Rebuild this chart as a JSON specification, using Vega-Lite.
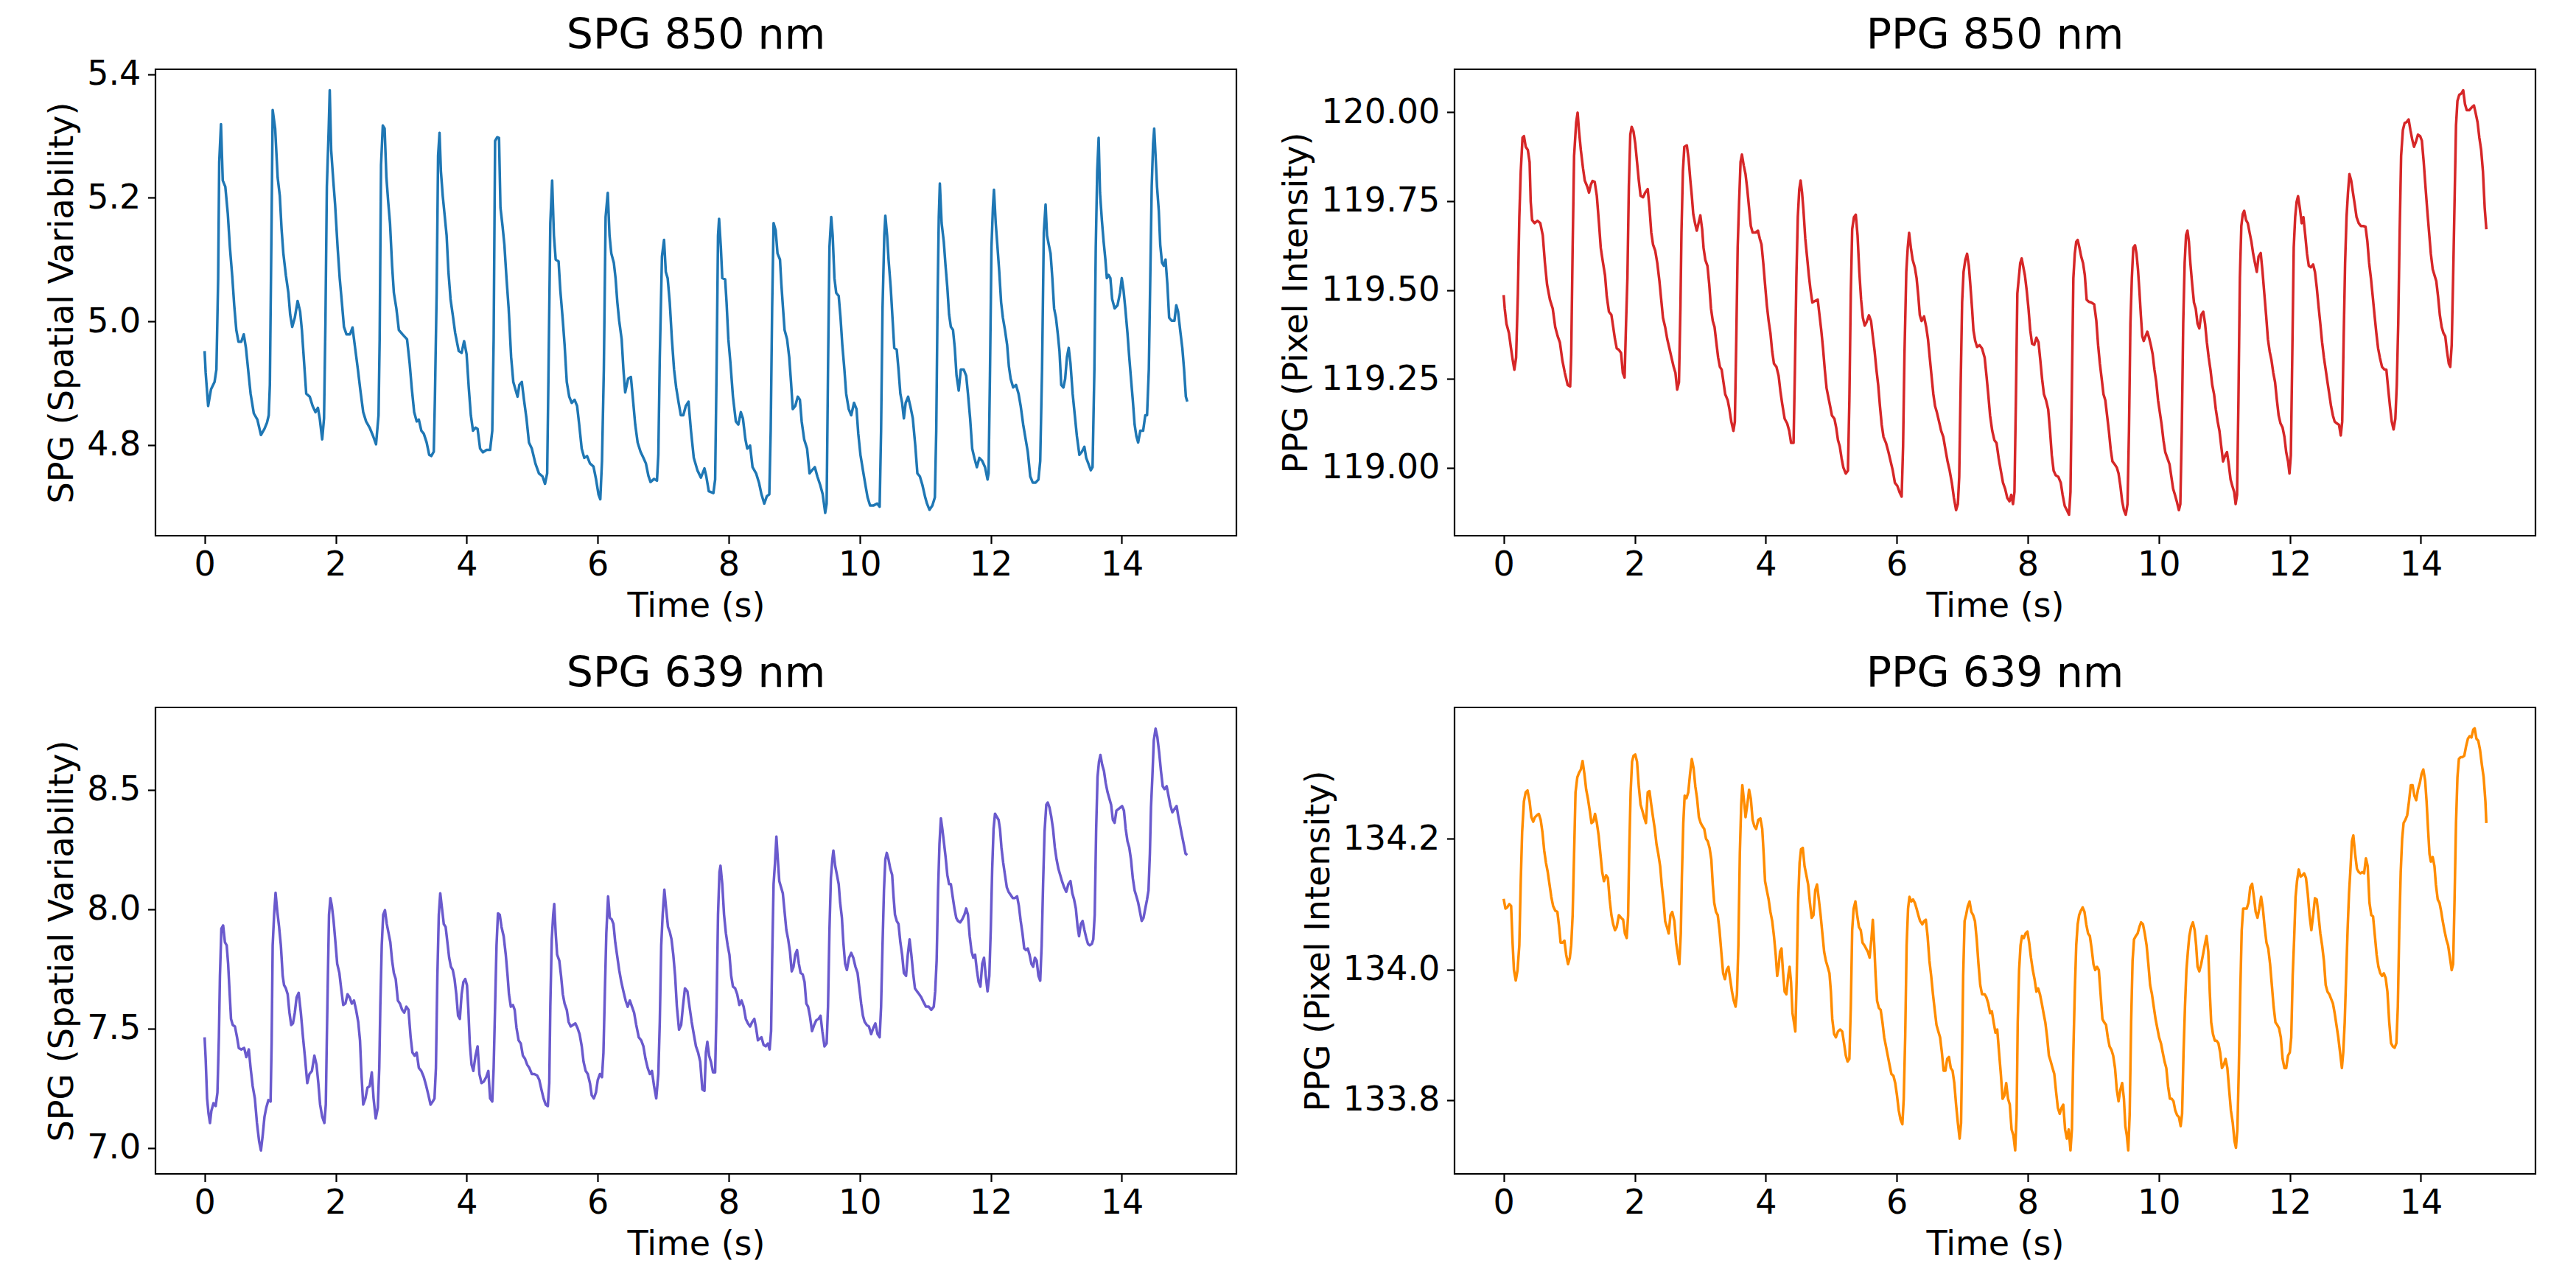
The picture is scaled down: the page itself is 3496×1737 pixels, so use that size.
{
  "$schema": "https://vega.github.io/schema/vega-lite/v6.json",
  "description": "SPG and PPG signals at 850 nm and 639 nm over 15 s",
  "background": "white",
  "padding": {"left": 60, "top": 18, "right": 10, "bottom": 10},
  "datasets": {
    "spg850": [
      {"t":0,"v":4.952},{"t":0.016,"v":4.917},{"t":0.054,"v":4.863},{"t":0.098,"v":4.89},{"t":0.152,"v":4.902},{"t":0.18,"v":4.922},{"t":0.207,"v":5.07},{"t":0.223,"v":5.258},{"t":0.25,"v":5.319},{"t":0.277,"v":5.228},{"t":0.316,"v":5.218},{"t":0.354,"v":5.174},{"t":0.386,"v":5.12},{"t":0.424,"v":5.07},{"t":0.452,"v":5.026},{"t":0.484,"v":4.986},{"t":0.517,"v":4.967},{"t":0.56,"v":4.967},{"t":0.598,"v":4.979},{"t":0.631,"v":4.957},{"t":0.669,"v":4.917},{"t":0.702,"v":4.883},{"t":0.751,"v":4.851},{"t":0.805,"v":4.841},{"t":0.86,"v":4.816},{"t":0.914,"v":4.826},{"t":0.952,"v":4.836},{"t":0.979,"v":4.848},{"t":0.996,"v":4.897},
      {"t":1.023,"v":5.169},{"t":1.039,"v":5.342},{"t":1.077,"v":5.312},{"t":1.115,"v":5.233},{"t":1.148,"v":5.203},{"t":1.175,"v":5.149},{"t":1.202,"v":5.11},{"t":1.24,"v":5.075},{"t":1.279,"v":5.046},{"t":1.306,"v":5.011},{"t":1.338,"v":4.991},{"t":1.377,"v":5.006},{"t":1.42,"v":5.033},{"t":1.458,"v":5.016},{"t":1.485,"v":4.986},{"t":1.513,"v":4.942},{"t":1.551,"v":4.883},{"t":1.605,"v":4.878},{"t":1.649,"v":4.863},{"t":1.692,"v":4.853},{"t":1.73,"v":4.86},{"t":1.757,"v":4.843},{"t":1.795,"v":4.809},{"t":1.823,"v":4.843},{"t":1.844,"v":4.996},{"t":1.866,"v":5.218},{"t":1.893,"v":5.307},{"t":1.91,"v":5.374},{"t":1.932,"v":5.277},{"t":1.964,"v":5.228},{"t":1.992,"v":5.189},
      {"t":2.03,"v":5.12},{"t":2.062,"v":5.07},{"t":2.095,"v":5.031},{"t":2.127,"v":4.991},{"t":2.165,"v":4.979},{"t":2.22,"v":4.979},{"t":2.258,"v":4.99},{"t":2.301,"v":4.954},{"t":2.34,"v":4.922},{"t":2.378,"v":4.888},{"t":2.421,"v":4.853},{"t":2.465,"v":4.838},{"t":2.519,"v":4.828},{"t":2.573,"v":4.814},{"t":2.617,"v":4.801},{"t":2.655,"v":4.848},{"t":2.672,"v":4.971},{"t":2.693,"v":5.253},{"t":2.72,"v":5.317},{"t":2.748,"v":5.312},{"t":2.775,"v":5.233},{"t":2.802,"v":5.194},{"t":2.83,"v":5.159},{"t":2.862,"v":5.09},{"t":2.889,"v":5.046},{"t":2.927,"v":5.021},{"t":2.965,"v":4.986},
      {"t":3.02,"v":4.979},{"t":3.09,"v":4.971},{"t":3.13,"v":4.932},{"t":3.161,"v":4.893},{"t":3.199,"v":4.853},{"t":3.237,"v":4.838},{"t":3.27,"v":4.841},{"t":3.308,"v":4.823},{"t":3.346,"v":4.818},{"t":3.389,"v":4.804},{"t":3.428,"v":4.784},{"t":3.46,"v":4.782},{"t":3.498,"v":4.789},{"t":3.515,"v":4.873},{"t":3.542,"v":5.046},{"t":3.564,"v":5.268},{"t":3.586,"v":5.305},{"t":3.607,"v":5.243},{"t":3.635,"v":5.203},{"t":3.662,"v":5.174},{"t":3.694,"v":5.139},{"t":3.722,"v":5.08},{"t":3.754,"v":5.036},{"t":3.787,"v":5.011},{"t":3.825,"v":4.981},{"t":3.879,"v":4.952},{"t":3.923,"v":4.949},{"t":3.961,"v":4.968},{"t":3.999,"v":4.947},
      {"t":4.032,"v":4.893},{"t":4.064,"v":4.848},{"t":4.097,"v":4.823},{"t":4.135,"v":4.828},{"t":4.167,"v":4.826},{"t":4.205,"v":4.794},{"t":4.249,"v":4.788},{"t":4.304,"v":4.792},{"t":4.358,"v":4.792},{"t":4.391,"v":4.823},{"t":4.412,"v":4.971},{"t":4.434,"v":5.292},{"t":4.467,"v":5.298},{"t":4.494,"v":5.297},{"t":4.516,"v":5.184},{"t":4.548,"v":5.154},{"t":4.576,"v":5.124},{"t":4.608,"v":5.07},{"t":4.641,"v":5.021},{"t":4.679,"v":4.942},{"t":4.712,"v":4.902},{"t":4.75,"v":4.888},{"t":4.777,"v":4.878},{"t":4.804,"v":4.897},{"t":4.842,"v":4.902},{"t":4.875,"v":4.873},{"t":4.913,"v":4.843},{"t":4.951,"v":4.804},{"t":4.995,"v":4.794},
      {"t":5.049,"v":4.77},{"t":5.103,"v":4.754},{"t":5.158,"v":4.749},{"t":5.196,"v":4.737},{"t":5.229,"v":4.754},{"t":5.25,"v":4.922},{"t":5.277,"v":5.159},{"t":5.305,"v":5.228},{"t":5.332,"v":5.139},{"t":5.359,"v":5.1},{"t":5.403,"v":5.097},{"t":5.43,"v":5.05},{"t":5.468,"v":5.001},{"t":5.495,"v":4.962},{"t":5.528,"v":4.902},{"t":5.566,"v":4.878},{"t":5.604,"v":4.868},{"t":5.648,"v":4.873},{"t":5.686,"v":4.863},{"t":5.718,"v":4.833},{"t":5.756,"v":4.794},{"t":5.795,"v":4.779},{"t":5.838,"v":4.782},{"t":5.882,"v":4.77},{"t":5.936,"v":4.765},{"t":5.974,"v":4.745},
      {"t":6.012,"v":4.72},{"t":6.04,"v":4.712},{"t":6.066,"v":4.774},{"t":6.094,"v":4.922},{"t":6.121,"v":5.169},{"t":6.154,"v":5.208},{"t":6.181,"v":5.139},{"t":6.208,"v":5.11},{"t":6.246,"v":5.095},{"t":6.273,"v":5.07},{"t":6.3,"v":5.031},{"t":6.328,"v":5.001},{"t":6.366,"v":4.971},{"t":6.393,"v":4.922},{"t":6.42,"v":4.885},{"t":6.464,"v":4.907},{"t":6.507,"v":4.91},{"t":6.535,"v":4.878},{"t":6.573,"v":4.833},{"t":6.61,"v":4.804},{"t":6.654,"v":4.789},{"t":6.698,"v":4.779},{"t":6.736,"v":4.77},{"t":6.774,"v":4.75},{"t":6.807,"v":4.74},{"t":6.861,"v":4.745},{"t":6.905,"v":4.742},{"t":6.926,"v":4.784},{"t":6.948,"v":4.942},{"t":6.981,"v":5.105},
      {"t":7.013,"v":5.132},{"t":7.04,"v":5.08},{"t":7.068,"v":5.07},{"t":7.1,"v":5.031},{"t":7.133,"v":4.971},{"t":7.166,"v":4.922},{"t":7.198,"v":4.893},{"t":7.236,"v":4.868},{"t":7.269,"v":4.848},{"t":7.307,"v":4.848},{"t":7.345,"v":4.863},{"t":7.386,"v":4.87},{"t":7.424,"v":4.823},{"t":7.467,"v":4.779},{"t":7.522,"v":4.759},{"t":7.576,"v":4.747},{"t":7.63,"v":4.762},{"t":7.658,"v":4.749},{"t":7.696,"v":4.725},{"t":7.766,"v":4.722},{"t":7.793,"v":4.744},{"t":7.815,"v":4.922},{"t":7.837,"v":5.139},{"t":7.853,"v":5.166},{"t":7.88,"v":5.12},{"t":7.902,"v":5.07},{"t":7.946,"v":5.068},{"t":7.967,"v":5.031},{"t":7.995,"v":4.971},
      {"t":8.027,"v":4.932},{"t":8.065,"v":4.878},{"t":8.109,"v":4.838},{"t":8.147,"v":4.833},{"t":8.185,"v":4.853},{"t":8.217,"v":4.843},{"t":8.255,"v":4.809},{"t":8.283,"v":4.794},{"t":8.326,"v":4.799},{"t":8.364,"v":4.764},{"t":8.418,"v":4.754},{"t":8.462,"v":4.739},{"t":8.5,"v":4.72},{"t":8.543,"v":4.705},{"t":8.582,"v":4.717},{"t":8.62,"v":4.72},{"t":8.641,"v":4.823},{"t":8.663,"v":5.021},{"t":8.685,"v":5.159},{"t":8.717,"v":5.147},{"t":8.745,"v":5.11},{"t":8.783,"v":5.1},{"t":8.804,"v":5.06},{"t":8.826,"v":5.026},{"t":8.853,"v":4.986},{"t":8.891,"v":4.971},{"t":8.924,"v":4.942},{"t":8.951,"v":4.902},{"t":8.978,"v":4.858},
      {"t":9.016,"v":4.863},{"t":9.054,"v":4.878},{"t":9.087,"v":4.873},{"t":9.114,"v":4.838},{"t":9.152,"v":4.809},{"t":9.196,"v":4.794},{"t":9.234,"v":4.754},{"t":9.272,"v":4.759},{"t":9.315,"v":4.764},{"t":9.353,"v":4.749},{"t":9.397,"v":4.735},{"t":9.435,"v":4.72},{"t":9.473,"v":4.69},{"t":9.495,"v":4.705},{"t":9.516,"v":4.922},{"t":9.538,"v":5.12},{"t":9.565,"v":5.169},{"t":9.587,"v":5.139},{"t":9.614,"v":5.07},{"t":9.641,"v":5.046},{"t":9.679,"v":5.041},{"t":9.707,"v":5.006},{"t":9.734,"v":4.962},{"t":9.766,"v":4.922},{"t":9.793,"v":4.883},{"t":9.832,"v":4.858},{"t":9.87,"v":4.848},{"t":9.913,"v":4.868},{"t":9.951,"v":4.858},{"t":9.978,"v":4.818},
      {"t":10.011,"v":4.784},{"t":10.049,"v":4.759},{"t":10.087,"v":4.735},{"t":10.12,"v":4.715},{"t":10.158,"v":4.702},{"t":10.212,"v":4.702},{"t":10.266,"v":4.705},{"t":10.304,"v":4.7},{"t":10.326,"v":4.823},{"t":10.348,"v":5.021},{"t":10.375,"v":5.139},{"t":10.391,"v":5.171},{"t":10.418,"v":5.139},{"t":10.44,"v":5.1},{"t":10.473,"v":5.055},{"t":10.5,"v":5.006},{"t":10.527,"v":4.957},{"t":10.565,"v":4.954},{"t":10.592,"v":4.922},{"t":10.62,"v":4.883},{"t":10.647,"v":4.868},{"t":10.674,"v":4.843},{"t":10.701,"v":4.868},{"t":10.739,"v":4.878},{"t":10.772,"v":4.863},{"t":10.81,"v":4.843},{"t":10.848,"v":4.799},{"t":10.88,"v":4.754},{"t":10.918,"v":4.749},{"t":10.957,"v":4.735},
      {"t":11.0,"v":4.715},{"t":11.027,"v":4.705},{"t":11.065,"v":4.695},{"t":11.109,"v":4.702},{"t":11.147,"v":4.715},{"t":11.168,"v":4.823},{"t":11.19,"v":5.046},{"t":11.207,"v":5.169},{"t":11.223,"v":5.223},{"t":11.25,"v":5.159},{"t":11.283,"v":5.129},{"t":11.31,"v":5.09},{"t":11.337,"v":5.055},{"t":11.364,"v":5.011},{"t":11.391,"v":4.991},{"t":11.424,"v":4.986},{"t":11.451,"v":4.957},{"t":11.478,"v":4.912},{"t":11.511,"v":4.888},{"t":11.543,"v":4.922},{"t":11.587,"v":4.922},{"t":11.625,"v":4.912},{"t":11.652,"v":4.883},{"t":11.685,"v":4.843},{"t":11.717,"v":4.794},{"t":11.75,"v":4.779},{"t":11.788,"v":4.764},{"t":11.826,"v":4.779},{"t":11.87,"v":4.774},{"t":11.913,"v":4.764},{"t":11.951,"v":4.744},{"t":11.967,"v":4.754},{"t":11.989,"v":4.922},
      {"t":12.011,"v":5.12},{"t":12.033,"v":5.184},{"t":12.049,"v":5.213},{"t":12.076,"v":5.159},{"t":12.103,"v":5.12},{"t":12.13,"v":5.08},{"t":12.158,"v":5.031},{"t":12.185,"v":5.006},{"t":12.217,"v":4.986},{"t":12.25,"v":4.962},{"t":12.277,"v":4.927},{"t":12.304,"v":4.907},{"t":12.342,"v":4.893},{"t":12.386,"v":4.897},{"t":12.424,"v":4.883},{"t":12.457,"v":4.863},{"t":12.495,"v":4.833},{"t":12.533,"v":4.809},{"t":12.565,"v":4.789},{"t":12.603,"v":4.749},{"t":12.641,"v":4.739},{"t":12.685,"v":4.739},{"t":12.728,"v":4.744},{"t":12.755,"v":4.774},{"t":12.783,"v":4.922},{"t":12.81,"v":5.144},{"t":12.837,"v":5.189},{"t":12.859,"v":5.139},{"t":12.886,"v":5.124},{"t":12.913,"v":5.11},{"t":12.94,"v":5.07},{"t":12.967,"v":5.021},{"t":12.995,"v":5.006},
      {"t":13.022,"v":4.981},{"t":13.049,"v":4.952},{"t":13.076,"v":4.897},{"t":13.109,"v":4.893},{"t":13.136,"v":4.907},{"t":13.163,"v":4.942},{"t":13.19,"v":4.957},{"t":13.217,"v":4.932},{"t":13.25,"v":4.883},{"t":13.283,"v":4.848},{"t":13.315,"v":4.814},{"t":13.353,"v":4.784},{"t":13.391,"v":4.789},{"t":13.429,"v":4.797},{"t":13.457,"v":4.779},{"t":13.489,"v":4.77},{"t":13.527,"v":4.759},{"t":13.554,"v":4.764},{"t":13.582,"v":4.922},{"t":13.603,"v":5.12},{"t":13.625,"v":5.243},{"t":13.647,"v":5.297},{"t":13.668,"v":5.208},{"t":13.696,"v":5.164},{"t":13.723,"v":5.129},{"t":13.75,"v":5.1},{"t":13.772,"v":5.07},{"t":13.799,"v":5.075},{"t":13.826,"v":5.07},{"t":13.853,"v":5.036},{"t":13.891,"v":5.021},{"t":13.935,"v":5.026},{"t":13.973,"v":5.046},
      {"t":14.0,"v":5.07},{"t":14.027,"v":5.05},{"t":14.054,"v":5.021},{"t":14.087,"v":4.981},{"t":14.114,"v":4.942},{"t":14.141,"v":4.907},{"t":14.168,"v":4.873},{"t":14.196,"v":4.833},{"t":14.223,"v":4.814},{"t":14.25,"v":4.804},{"t":14.283,"v":4.823},{"t":14.326,"v":4.823},{"t":14.359,"v":4.848},{"t":14.386,"v":4.848},{"t":14.413,"v":4.922},{"t":14.435,"v":5.07},{"t":14.457,"v":5.218},{"t":14.478,"v":5.287},{"t":14.495,"v":5.312},{"t":14.516,"v":5.268},{"t":14.538,"v":5.218},{"t":14.565,"v":5.179},{"t":14.587,"v":5.124},{"t":14.614,"v":5.095},{"t":14.641,"v":5.09},{"t":14.668,"v":5.1},{"t":14.696,"v":5.06},{"t":14.723,"v":5.006},{"t":14.761,"v":5.001},{"t":14.804,"v":5.001},{"t":14.832,"v":5.026},{"t":14.859,"v":5.016},{"t":14.891,"v":4.986},{"t":14.924,"v":4.957},{"t":14.951,"v":4.922},{"t":14.978,"v":4.878},{"t":15.0,"v":4.87}
    ],
    "ppg850": [
      {"t":0,"v":119.486},{"t":0.016,"v":119.448},{"t":0.043,"v":119.405},{"t":0.081,"v":119.379},{"t":0.109,"v":119.34},{"t":0.136,"v":119.306},{"t":0.163,"v":119.276},{"t":0.19,"v":119.31},{"t":0.217,"v":119.49},{"t":0.239,"v":119.705},{"t":0.261,"v":119.834},{"t":0.288,"v":119.929},{"t":0.31,"v":119.933},{"t":0.337,"v":119.903},{"t":0.369,"v":119.894},{"t":0.396,"v":119.86},{"t":0.413,"v":119.748},{"t":0.434,"v":119.697},{"t":0.472,"v":119.688},{"t":0.516,"v":119.695},{"t":0.559,"v":119.688},{"t":0.597,"v":119.654},{"t":0.63,"v":119.576},{"t":0.662,"v":119.516},{"t":0.706,"v":119.473},{"t":0.749,"v":119.448},{"t":0.787,"v":119.396},{"t":0.825,"v":119.37},{"t":0.858,"v":119.353},{"t":0.896,"v":119.302},{"t":0.934,"v":119.267},{"t":0.977,"v":119.233},
      {"t":1.015,"v":119.229},{"t":1.031,"v":119.319},{"t":1.053,"v":119.619},{"t":1.075,"v":119.877},{"t":1.107,"v":119.972},{"t":1.129,"v":119.999},{"t":1.151,"v":119.946},{"t":1.178,"v":119.894},{"t":1.211,"v":119.843},{"t":1.238,"v":119.808},{"t":1.276,"v":119.791},{"t":1.303,"v":119.774},{"t":1.33,"v":119.796},{"t":1.357,"v":119.807},{"t":1.39,"v":119.804},{"t":1.422,"v":119.765},{"t":1.455,"v":119.688},{"t":1.482,"v":119.619},{"t":1.509,"v":119.585},{"t":1.547,"v":119.542},{"t":1.574,"v":119.482},{"t":1.607,"v":119.439},{"t":1.645,"v":119.43},{"t":1.672,"v":119.396},{"t":1.699,"v":119.362},{"t":1.726,"v":119.336},{"t":1.759,"v":119.332},{"t":1.792,"v":119.323},{"t":1.819,"v":119.267},{"t":1.846,"v":119.254},{"t":1.868,"v":119.405},{"t":1.889,"v":119.534},{"t":1.911,"v":119.791},{"t":1.933,"v":119.937},{"t":1.954,"v":119.959},{"t":1.982,"v":119.946},
      {"t":2.009,"v":119.912},{"t":2.036,"v":119.86},{"t":2.063,"v":119.808},{"t":2.09,"v":119.765},{"t":2.128,"v":119.761},{"t":2.16,"v":119.774},{"t":2.199,"v":119.784},{"t":2.226,"v":119.731},{"t":2.253,"v":119.662},{"t":2.28,"v":119.628},{"t":2.313,"v":119.611},{"t":2.345,"v":119.576},{"t":2.378,"v":119.525},{"t":2.405,"v":119.473},{"t":2.432,"v":119.422},{"t":2.465,"v":119.396},{"t":2.497,"v":119.362},{"t":2.53,"v":119.336},{"t":2.562,"v":119.31},{"t":2.595,"v":119.284},{"t":2.622,"v":119.267},{"t":2.649,"v":119.22},{"t":2.676,"v":119.241},{"t":2.698,"v":119.448},{"t":2.714,"v":119.662},{"t":2.736,"v":119.834},{"t":2.758,"v":119.903},{"t":2.796,"v":119.907},{"t":2.823,"v":119.869},{"t":2.85,"v":119.808},{"t":2.872,"v":119.765},{"t":2.894,"v":119.714},{"t":2.921,"v":119.688},{"t":2.948,"v":119.667},{"t":2.975,"v":119.688},
      {"t":3.002,"v":119.71},{"t":3.03,"v":119.671},{"t":3.051,"v":119.619},{"t":3.078,"v":119.585},{"t":3.111,"v":119.568},{"t":3.138,"v":119.516},{"t":3.165,"v":119.448},{"t":3.192,"v":119.413},{"t":3.219,"v":119.396},{"t":3.246,"v":119.353},{"t":3.274,"v":119.31},{"t":3.301,"v":119.284},{"t":3.328,"v":119.276},{"t":3.355,"v":119.241},{"t":3.382,"v":119.207},{"t":3.42,"v":119.19},{"t":3.447,"v":119.164},{"t":3.475,"v":119.13},{"t":3.507,"v":119.104},{"t":3.529,"v":119.13},{"t":3.551,"v":119.362},{"t":3.572,"v":119.619},{"t":3.594,"v":119.748},{"t":3.616,"v":119.86},{"t":3.637,"v":119.881},{"t":3.664,"v":119.851},{"t":3.692,"v":119.826},{"t":3.719,"v":119.783},{"t":3.746,"v":119.731},{"t":3.773,"v":119.68},{"t":3.8,"v":119.662},{"t":3.844,"v":119.662},{"t":3.882,"v":119.667},{"t":3.909,"v":119.645},{"t":3.936,"v":119.628},{"t":3.963,"v":119.576},{"t":3.99,"v":119.516},
      {"t":4.018,"v":119.456},{"t":4.045,"v":119.413},{"t":4.072,"v":119.379},{"t":4.099,"v":119.327},{"t":4.126,"v":119.293},{"t":4.164,"v":119.284},{"t":4.197,"v":119.259},{"t":4.224,"v":119.216},{"t":4.251,"v":119.181},{"t":4.289,"v":119.138},{"t":4.327,"v":119.125},{"t":4.359,"v":119.104},{"t":4.387,"v":119.07},{"t":4.425,"v":119.07},{"t":4.446,"v":119.276},{"t":4.468,"v":119.534},{"t":4.49,"v":119.705},{"t":4.512,"v":119.783},{"t":4.533,"v":119.808},{"t":4.555,"v":119.774},{"t":4.577,"v":119.723},{"t":4.604,"v":119.645},{"t":4.631,"v":119.594},{"t":4.658,"v":119.542},{"t":4.685,"v":119.499},{"t":4.712,"v":119.465},{"t":4.75,"v":119.469},{"t":4.794,"v":119.473},{"t":4.821,"v":119.43},{"t":4.848,"v":119.387},{"t":4.875,"v":119.336},{"t":4.902,"v":119.276},{"t":4.929,"v":119.224},{"t":4.957,"v":119.198},{"t":4.984,"v":119.173},
      {"t":5.011,"v":119.147},{"t":5.049,"v":119.138},{"t":5.076,"v":119.113},{"t":5.103,"v":119.078},{"t":5.13,"v":119.061},{"t":5.158,"v":119.027},{"t":5.185,"v":119.001},{"t":5.222,"v":118.984},{"t":5.255,"v":118.992},{"t":5.277,"v":119.19},{"t":5.299,"v":119.491},{"t":5.32,"v":119.671},{"t":5.347,"v":119.705},{"t":5.375,"v":119.712},{"t":5.402,"v":119.654},{"t":5.429,"v":119.551},{"t":5.456,"v":119.473},{"t":5.483,"v":119.422},{"t":5.511,"v":119.4},{"t":5.538,"v":119.409},{"t":5.576,"v":119.429},{"t":5.608,"v":119.413},{"t":5.635,"v":119.37},{"t":5.663,"v":119.327},{"t":5.69,"v":119.276},{"t":5.717,"v":119.233},{"t":5.744,"v":119.173},{"t":5.771,"v":119.121},{"t":5.798,"v":119.087},{"t":5.836,"v":119.07},{"t":5.874,"v":119.044},{"t":5.907,"v":119.018},{"t":5.94,"v":118.992},{"t":5.972,"v":118.958},
      {"t":6.01,"v":118.949},{"t":6.042,"v":118.932},{"t":6.075,"v":118.919},{"t":6.097,"v":119.061},{"t":6.118,"v":119.319},{"t":6.146,"v":119.551},{"t":6.168,"v":119.619},{"t":6.189,"v":119.661},{"t":6.216,"v":119.619},{"t":6.243,"v":119.585},{"t":6.276,"v":119.564},{"t":6.303,"v":119.534},{"t":6.33,"v":119.482},{"t":6.352,"v":119.43},{"t":6.379,"v":119.413},{"t":6.417,"v":119.426},{"t":6.45,"v":119.396},{"t":6.477,"v":119.362},{"t":6.504,"v":119.31},{"t":6.531,"v":119.259},{"t":6.559,"v":119.207},{"t":6.586,"v":119.173},{"t":6.613,"v":119.156},{"t":6.646,"v":119.13},{"t":6.678,"v":119.104},{"t":6.711,"v":119.087},{"t":6.743,"v":119.052},{"t":6.776,"v":119.018},{"t":6.808,"v":118.992},{"t":6.841,"v":118.958},{"t":6.873,"v":118.915},{"t":6.906,"v":118.881},{"t":6.933,"v":118.898},{"t":6.954,"v":118.975},{"t":6.976,"v":119.233},{"t":6.998,"v":119.465},
      {"t":7.02,"v":119.551},{"t":7.047,"v":119.585},{"t":7.074,"v":119.602},{"t":7.101,"v":119.568},{"t":7.123,"v":119.516},{"t":7.15,"v":119.448},{"t":7.171,"v":119.387},{"t":7.198,"v":119.357},{"t":7.226,"v":119.34},{"t":7.264,"v":119.345},{"t":7.302,"v":119.336},{"t":7.342,"v":119.31},{"t":7.37,"v":119.259},{"t":7.397,"v":119.207},{"t":7.425,"v":119.147},{"t":7.458,"v":119.104},{"t":7.49,"v":119.078},{"t":7.523,"v":119.07},{"t":7.556,"v":119.027},{"t":7.589,"v":118.992},{"t":7.622,"v":118.958},{"t":7.655,"v":118.941},{"t":7.688,"v":118.915},{"t":7.721,"v":118.906},{"t":7.748,"v":118.924},{"t":7.775,"v":118.898},{"t":7.797,"v":118.932},{"t":7.819,"v":119.19},{"t":7.841,"v":119.49},{"t":7.863,"v":119.533},{"t":7.885,"v":119.576},{"t":7.907,"v":119.589},{"t":7.929,"v":119.568},{"t":7.956,"v":119.542},{"t":7.984,"v":119.499},
      {"t":8.011,"v":119.448},{"t":8.038,"v":119.387},{"t":8.066,"v":119.349},{"t":8.099,"v":119.346},{"t":8.132,"v":119.366},{"t":8.164,"v":119.353},{"t":8.192,"v":119.302},{"t":8.219,"v":119.25},{"t":8.247,"v":119.207},{"t":8.279,"v":119.19},{"t":8.312,"v":119.164},{"t":8.34,"v":119.104},{"t":8.367,"v":119.035},{"t":8.395,"v":118.992},{"t":8.427,"v":118.979},{"t":8.466,"v":118.975},{"t":8.504,"v":118.958},{"t":8.532,"v":118.924},{"t":8.564,"v":118.893},{"t":8.597,"v":118.881},{"t":8.63,"v":118.868},{"t":8.652,"v":118.932},{"t":8.674,"v":119.233},{"t":8.696,"v":119.533},{"t":8.718,"v":119.602},{"t":8.74,"v":119.636},{"t":8.762,"v":119.641},{"t":8.789,"v":119.619},{"t":8.816,"v":119.594},{"t":8.844,"v":119.576},{"t":8.871,"v":119.542},{"t":8.899,"v":119.473},{"t":8.932,"v":119.467},{"t":8.97,"v":119.465},
      {"t":9.014,"v":119.46},{"t":9.047,"v":119.413},{"t":9.074,"v":119.345},{"t":9.101,"v":119.293},{"t":9.129,"v":119.25},{"t":9.156,"v":119.207},{"t":9.184,"v":119.19},{"t":9.211,"v":119.147},{"t":9.238,"v":119.104},{"t":9.266,"v":119.052},{"t":9.293,"v":119.018},{"t":9.326,"v":119.01},{"t":9.359,"v":119.001},{"t":9.386,"v":118.984},{"t":9.414,"v":118.949},{"t":9.441,"v":118.906},{"t":9.468,"v":118.881},{"t":9.496,"v":118.868},{"t":9.523,"v":118.898},{"t":9.545,"v":119.104},{"t":9.567,"v":119.405},{"t":9.589,"v":119.534},{"t":9.611,"v":119.619},{"t":9.638,"v":119.626},{"t":9.66,"v":119.602},{"t":9.682,"v":119.559},{"t":9.704,"v":119.499},{"t":9.726,"v":119.43},{"t":9.748,"v":119.37},{"t":9.77,"v":119.357},{"t":9.797,"v":119.37},{"t":9.825,"v":119.383},{"t":9.852,"v":119.366},{"t":9.879,"v":119.345},{"t":9.907,"v":119.319},{"t":9.934,"v":119.276},{"t":9.962,"v":119.241},{"t":9.989,"v":119.19},
      {"t":10.016,"v":119.156},{"t":10.044,"v":119.121},{"t":10.071,"v":119.078},{"t":10.099,"v":119.044},{"t":10.132,"v":119.027},{"t":10.164,"v":119.01},{"t":10.192,"v":118.975},{"t":10.219,"v":118.941},{"t":10.247,"v":118.924},{"t":10.274,"v":118.906},{"t":10.307,"v":118.881},{"t":10.329,"v":118.898},{"t":10.351,"v":119.104},{"t":10.373,"v":119.405},{"t":10.395,"v":119.576},{"t":10.416,"v":119.654},{"t":10.438,"v":119.667},{"t":10.46,"v":119.636},{"t":10.482,"v":119.576},{"t":10.51,"v":119.516},{"t":10.537,"v":119.465},{"t":10.564,"v":119.448},{"t":10.592,"v":119.405},{"t":10.619,"v":119.392},{"t":10.647,"v":119.43},{"t":10.679,"v":119.439},{"t":10.707,"v":119.405},{"t":10.734,"v":119.353},{"t":10.762,"v":119.31},{"t":10.789,"v":119.276},{"t":10.816,"v":119.233},{"t":10.844,"v":119.207},{"t":10.871,"v":119.164},{"t":10.899,"v":119.13},{"t":10.926,"v":119.104},{"t":10.953,"v":119.061},{"t":10.981,"v":119.018},
      {"t":11.014,"v":119.035},{"t":11.041,"v":119.044},{"t":11.068,"v":119.01},{"t":11.096,"v":118.967},{"t":11.123,"v":118.949},{"t":11.151,"v":118.932},{"t":11.173,"v":118.898},{"t":11.195,"v":118.924},{"t":11.216,"v":119.19},{"t":11.238,"v":119.534},{"t":11.26,"v":119.68},{"t":11.282,"v":119.714},{"t":11.304,"v":119.723},{"t":11.332,"v":119.697},{"t":11.359,"v":119.688},{"t":11.386,"v":119.662},{"t":11.414,"v":119.636},{"t":11.441,"v":119.602},{"t":11.468,"v":119.576},{"t":11.496,"v":119.551},{"t":11.523,"v":119.594},{"t":11.556,"v":119.604},{"t":11.584,"v":119.551},{"t":11.611,"v":119.49},{"t":11.638,"v":119.43},{"t":11.666,"v":119.362},{"t":11.693,"v":119.327},{"t":11.721,"v":119.302},{"t":11.748,"v":119.267},{"t":11.775,"v":119.241},{"t":11.803,"v":119.19},{"t":11.83,"v":119.147},{"t":11.858,"v":119.125},{"t":11.89,"v":119.113},{"t":11.918,"v":119.087},{"t":11.945,"v":119.044},{"t":11.973,"v":119.018},{"t":11.995,"v":118.984},
      {"t":12.016,"v":119.035},{"t":12.038,"v":119.319},{"t":12.06,"v":119.619},{"t":12.082,"v":119.705},{"t":12.104,"v":119.748},{"t":12.126,"v":119.764},{"t":12.153,"v":119.731},{"t":12.181,"v":119.688},{"t":12.208,"v":119.705},{"t":12.236,"v":119.654},{"t":12.263,"v":119.602},{"t":12.29,"v":119.568},{"t":12.323,"v":119.564},{"t":12.356,"v":119.572},{"t":12.384,"v":119.551},{"t":12.411,"v":119.508},{"t":12.438,"v":119.456},{"t":12.466,"v":119.405},{"t":12.493,"v":119.353},{"t":12.521,"v":119.31},{"t":12.548,"v":119.276},{"t":12.575,"v":119.241},{"t":12.603,"v":119.207},{"t":12.63,"v":119.173},{"t":12.658,"v":119.147},{"t":12.685,"v":119.13},{"t":12.718,"v":119.125},{"t":12.751,"v":119.121},{"t":12.778,"v":119.091},{"t":12.8,"v":119.13},{"t":12.822,"v":119.362},{"t":12.844,"v":119.576},{"t":12.866,"v":119.705},{"t":12.888,"v":119.774},{"t":12.91,"v":119.826},{"t":12.937,"v":119.808},{"t":12.964,"v":119.774},{"t":12.992,"v":119.74},
      {"t":13.019,"v":119.705},{"t":13.052,"v":119.688},{"t":13.085,"v":119.68},{"t":13.123,"v":119.68},{"t":13.156,"v":119.678},{"t":13.184,"v":119.637},{"t":13.211,"v":119.576},{"t":13.238,"v":119.534},{"t":13.266,"v":119.482},{"t":13.293,"v":119.43},{"t":13.321,"v":119.379},{"t":13.348,"v":119.336},{"t":13.375,"v":119.31},{"t":13.408,"v":119.284},{"t":13.441,"v":119.277},{"t":13.474,"v":119.276},{"t":13.501,"v":119.224},{"t":13.529,"v":119.173},{"t":13.556,"v":119.13},{"t":13.584,"v":119.108},{"t":13.611,"v":119.138},{"t":13.633,"v":119.233},{"t":13.655,"v":119.405},{"t":13.677,"v":119.662},{"t":13.699,"v":119.877},{"t":13.726,"v":119.95},{"t":13.753,"v":119.97},{"t":13.781,"v":119.972},{"t":13.814,"v":119.98},{"t":13.841,"v":119.95},{"t":13.868,"v":119.924},{"t":13.896,"v":119.903},{"t":13.923,"v":119.916},{"t":13.956,"v":119.937},{"t":13.989,"v":119.933},
      {"t":14.016,"v":119.92},{"t":14.044,"v":119.86},{"t":14.071,"v":119.791},{"t":14.099,"v":119.723},{"t":14.126,"v":119.662},{"t":14.153,"v":119.602},{"t":14.181,"v":119.559},{"t":14.208,"v":119.542},{"t":14.236,"v":119.525},{"t":14.263,"v":119.482},{"t":14.29,"v":119.43},{"t":14.318,"v":119.396},{"t":14.345,"v":119.379},{"t":14.373,"v":119.37},{"t":14.4,"v":119.327},{"t":14.427,"v":119.293},{"t":14.449,"v":119.284},{"t":14.471,"v":119.345},{"t":14.493,"v":119.534},{"t":14.515,"v":119.748},{"t":14.537,"v":119.963},{"t":14.559,"v":120.032},{"t":14.586,"v":120.049},{"t":14.619,"v":120.053},{"t":14.647,"v":120.062},{"t":14.674,"v":120.023},{"t":14.701,"v":120.006},{"t":14.74,"v":120.006},{"t":14.778,"v":120.014},{"t":14.811,"v":120.019},{"t":14.838,"v":119.997},{"t":14.866,"v":119.972},{"t":14.893,"v":119.929},{"t":14.921,"v":119.894},{"t":14.948,"v":119.834},{"t":14.975,"v":119.731},{"t":15.0,"v":119.671}
    ],
    "spg639": [
      {"t":0,"v":7.464},{"t":0.016,"v":7.374},{"t":0.038,"v":7.208},{"t":0.06,"v":7.144},{"t":0.082,"v":7.105},{"t":0.103,"v":7.156},{"t":0.136,"v":7.188},{"t":0.169,"v":7.176},{"t":0.196,"v":7.233},{"t":0.218,"v":7.464},{"t":0.234,"v":7.721},{"t":0.256,"v":7.919},{"t":0.283,"v":7.932},{"t":0.31,"v":7.862},{"t":0.337,"v":7.849},{"t":0.359,"v":7.772},{"t":0.381,"v":7.656},{"t":0.403,"v":7.541},{"t":0.43,"v":7.515},{"t":0.463,"v":7.509},{"t":0.495,"v":7.464},{"t":0.522,"v":7.419},{"t":0.56,"v":7.413},{"t":0.604,"v":7.419},{"t":0.637,"v":7.381},{"t":0.675,"v":7.413},{"t":0.702,"v":7.336},{"t":0.734,"v":7.259},{"t":0.767,"v":7.208},{"t":0.799,"v":7.105},{"t":0.832,"v":7.028},{"t":0.86,"v":6.99},{"t":0.887,"v":7.054},{"t":0.914,"v":7.131},{"t":0.941,"v":7.169},{"t":0.974,"v":7.201},
      {"t":1.007,"v":7.195},{"t":1.023,"v":7.438},{"t":1.039,"v":7.849},{"t":1.061,"v":7.977},{"t":1.083,"v":8.069},{"t":1.11,"v":7.99},{"t":1.137,"v":7.926},{"t":1.164,"v":7.849},{"t":1.192,"v":7.721},{"t":1.213,"v":7.682},{"t":1.24,"v":7.669},{"t":1.268,"v":7.644},{"t":1.295,"v":7.567},{"t":1.322,"v":7.515},{"t":1.349,"v":7.522},{"t":1.377,"v":7.567},{"t":1.404,"v":7.631},{"t":1.436,"v":7.65},{"t":1.469,"v":7.567},{"t":1.502,"v":7.464},{"t":1.534,"v":7.374},{"t":1.567,"v":7.272},{"t":1.6,"v":7.31},{"t":1.638,"v":7.323},{"t":1.676,"v":7.387},{"t":1.708,"v":7.349},{"t":1.736,"v":7.272},{"t":1.763,"v":7.182},{"t":1.795,"v":7.131},{"t":1.828,"v":7.105},{"t":1.85,"v":7.182},{"t":1.866,"v":7.464},{"t":1.882,"v":7.721},{"t":1.899,"v":7.977},{"t":1.92,"v":8.047},{"t":1.942,"v":8.015},{"t":1.969,"v":7.951},{"t":1.997,"v":7.862},
      {"t":2.024,"v":7.772},{"t":2.057,"v":7.733},{"t":2.084,"v":7.669},{"t":2.116,"v":7.599},{"t":2.149,"v":7.605},{"t":2.182,"v":7.644},{"t":2.214,"v":7.631},{"t":2.247,"v":7.605},{"t":2.28,"v":7.618},{"t":2.312,"v":7.579},{"t":2.345,"v":7.528},{"t":2.372,"v":7.451},{"t":2.394,"v":7.31},{"t":2.421,"v":7.182},{"t":2.454,"v":7.208},{"t":2.486,"v":7.253},{"t":2.519,"v":7.259},{"t":2.552,"v":7.317},{"t":2.579,"v":7.208},{"t":2.612,"v":7.124},{"t":2.644,"v":7.169},{"t":2.666,"v":7.336},{"t":2.682,"v":7.592},{"t":2.704,"v":7.849},{"t":2.726,"v":7.977},{"t":2.753,"v":7.996},{"t":2.781,"v":7.938},{"t":2.808,"v":7.9},{"t":2.835,"v":7.862},{"t":2.862,"v":7.785},{"t":2.889,"v":7.733},{"t":2.917,"v":7.708},{"t":2.95,"v":7.618},{"t":2.982,"v":7.605},
      {"t":3.015,"v":7.579},{"t":3.047,"v":7.567},{"t":3.08,"v":7.592},{"t":3.112,"v":7.579},{"t":3.145,"v":7.464},{"t":3.172,"v":7.4},{"t":3.205,"v":7.387},{"t":3.237,"v":7.4},{"t":3.27,"v":7.336},{"t":3.308,"v":7.323},{"t":3.346,"v":7.297},{"t":3.384,"v":7.259},{"t":3.417,"v":7.221},{"t":3.449,"v":7.182},{"t":3.482,"v":7.195},{"t":3.509,"v":7.208},{"t":3.531,"v":7.336},{"t":3.553,"v":7.721},{"t":3.575,"v":7.977},{"t":3.597,"v":8.067},{"t":3.624,"v":8.003},{"t":3.651,"v":7.938},{"t":3.679,"v":7.926},{"t":3.706,"v":7.862},{"t":3.733,"v":7.797},{"t":3.76,"v":7.759},{"t":3.788,"v":7.746},{"t":3.815,"v":7.708},{"t":3.842,"v":7.644},{"t":3.869,"v":7.554},{"t":3.896,"v":7.541},{"t":3.923,"v":7.644},{"t":3.95,"v":7.695},{"t":3.978,"v":7.708},
      {"t":4.005,"v":7.682},{"t":4.026,"v":7.579},{"t":4.048,"v":7.438},{"t":4.075,"v":7.349},{"t":4.102,"v":7.323},{"t":4.135,"v":7.387},{"t":4.167,"v":7.426},{"t":4.195,"v":7.31},{"t":4.227,"v":7.272},{"t":4.26,"v":7.278},{"t":4.298,"v":7.297},{"t":4.331,"v":7.323},{"t":4.358,"v":7.208},{"t":4.391,"v":7.195},{"t":4.412,"v":7.336},{"t":4.434,"v":7.592},{"t":4.456,"v":7.849},{"t":4.478,"v":7.983},{"t":4.505,"v":7.977},{"t":4.532,"v":7.926},{"t":4.565,"v":7.887},{"t":4.597,"v":7.81},{"t":4.625,"v":7.721},{"t":4.646,"v":7.644},{"t":4.674,"v":7.592},{"t":4.706,"v":7.599},{"t":4.733,"v":7.579},{"t":4.761,"v":7.503},{"t":4.793,"v":7.451},{"t":4.826,"v":7.438},{"t":4.858,"v":7.387},{"t":4.891,"v":7.374},{"t":4.924,"v":7.349},{"t":4.956,"v":7.336},{"t":4.995,"v":7.31},
      {"t":5.033,"v":7.31},{"t":5.076,"v":7.304},{"t":5.109,"v":7.285},{"t":5.141,"v":7.246},{"t":5.174,"v":7.208},{"t":5.207,"v":7.182},{"t":5.239,"v":7.176},{"t":5.261,"v":7.272},{"t":5.277,"v":7.592},{"t":5.299,"v":7.874},{"t":5.321,"v":7.977},{"t":5.337,"v":8.022},{"t":5.359,"v":7.9},{"t":5.381,"v":7.81},{"t":5.414,"v":7.785},{"t":5.441,"v":7.721},{"t":5.468,"v":7.644},{"t":5.495,"v":7.605},{"t":5.528,"v":7.579},{"t":5.556,"v":7.528},{"t":5.588,"v":7.509},{"t":5.621,"v":7.515},{"t":5.659,"v":7.522},{"t":5.692,"v":7.503},{"t":5.724,"v":7.477},{"t":5.757,"v":7.426},{"t":5.784,"v":7.362},{"t":5.817,"v":7.323},{"t":5.849,"v":7.31},{"t":5.882,"v":7.272},{"t":5.909,"v":7.221},{"t":5.941,"v":7.208},{"t":5.974,"v":7.233},
      {"t":6.001,"v":7.285},{"t":6.034,"v":7.31},{"t":6.066,"v":7.297},{"t":6.088,"v":7.4},{"t":6.11,"v":7.656},{"t":6.132,"v":7.9},{"t":6.159,"v":8.054},{"t":6.186,"v":7.964},{"t":6.213,"v":7.958},{"t":6.241,"v":7.938},{"t":6.268,"v":7.862},{"t":6.295,"v":7.81},{"t":6.328,"v":7.746},{"t":6.361,"v":7.695},{"t":6.393,"v":7.656},{"t":6.426,"v":7.618},{"t":6.458,"v":7.592},{"t":6.491,"v":7.618},{"t":6.524,"v":7.592},{"t":6.556,"v":7.567},{"t":6.589,"v":7.515},{"t":6.627,"v":7.464},{"t":6.665,"v":7.451},{"t":6.698,"v":7.426},{"t":6.73,"v":7.374},{"t":6.763,"v":7.336},{"t":6.796,"v":7.31},{"t":6.828,"v":7.323},{"t":6.861,"v":7.259},{"t":6.894,"v":7.208},{"t":6.926,"v":7.31},{"t":6.948,"v":7.528},{"t":6.97,"v":7.849},{"t":6.992,"v":7.977},
      {"t":7.018,"v":8.082},{"t":7.045,"v":8.003},{"t":7.073,"v":7.926},{"t":7.1,"v":7.906},{"t":7.127,"v":7.874},{"t":7.154,"v":7.81},{"t":7.182,"v":7.721},{"t":7.209,"v":7.592},{"t":7.242,"v":7.496},{"t":7.274,"v":7.515},{"t":7.301,"v":7.592},{"t":7.332,"v":7.669},{"t":7.37,"v":7.656},{"t":7.402,"v":7.592},{"t":7.435,"v":7.528},{"t":7.467,"v":7.477},{"t":7.5,"v":7.426},{"t":7.533,"v":7.4},{"t":7.565,"v":7.362},{"t":7.598,"v":7.246},{"t":7.63,"v":7.24},{"t":7.652,"v":7.4},{"t":7.674,"v":7.445},{"t":7.701,"v":7.387},{"t":7.728,"v":7.362},{"t":7.761,"v":7.317},{"t":7.793,"v":7.317},{"t":7.815,"v":7.592},{"t":7.837,"v":7.977},{"t":7.859,"v":8.156},{"t":7.875,"v":8.182},{"t":7.902,"v":8.105},{"t":7.929,"v":7.977},{"t":7.957,"v":7.9},{"t":7.984,"v":7.849},
      {"t":8.011,"v":7.81},{"t":8.038,"v":7.721},{"t":8.065,"v":7.676},{"t":8.098,"v":7.669},{"t":8.13,"v":7.644},{"t":8.163,"v":7.599},{"t":8.196,"v":7.618},{"t":8.228,"v":7.592},{"t":8.261,"v":7.541},{"t":8.293,"v":7.522},{"t":8.326,"v":7.509},{"t":8.359,"v":7.528},{"t":8.391,"v":7.541},{"t":8.418,"v":7.503},{"t":8.446,"v":7.451},{"t":8.473,"v":7.458},{"t":8.5,"v":7.464},{"t":8.533,"v":7.432},{"t":8.565,"v":7.426},{"t":8.598,"v":7.438},{"t":8.625,"v":7.413},{"t":8.647,"v":7.49},{"t":8.663,"v":7.785},{"t":8.685,"v":8.105},{"t":8.707,"v":8.195},{"t":8.728,"v":8.304},{"t":8.75,"v":8.208},{"t":8.772,"v":8.118},{"t":8.799,"v":8.092},{"t":8.826,"v":8.067},{"t":8.853,"v":7.99},{"t":8.88,"v":7.913},{"t":8.908,"v":7.874},{"t":8.935,"v":7.823},{"t":8.962,"v":7.74},{"t":8.989,"v":7.759},
      {"t":9.016,"v":7.81},{"t":9.043,"v":7.829},{"t":9.071,"v":7.772},{"t":9.098,"v":7.733},{"t":9.13,"v":7.727},{"t":9.158,"v":7.695},{"t":9.185,"v":7.605},{"t":9.212,"v":7.592},{"t":9.239,"v":7.554},{"t":9.272,"v":7.49},{"t":9.304,"v":7.515},{"t":9.337,"v":7.535},{"t":9.37,"v":7.541},{"t":9.402,"v":7.554},{"t":9.429,"v":7.49},{"t":9.462,"v":7.426},{"t":9.495,"v":7.438},{"t":9.516,"v":7.592},{"t":9.538,"v":7.913},{"t":9.56,"v":8.131},{"t":9.582,"v":8.208},{"t":9.598,"v":8.246},{"t":9.625,"v":8.182},{"t":9.652,"v":8.144},{"t":9.679,"v":8.105},{"t":9.701,"v":8.028},{"t":9.728,"v":7.964},{"t":9.75,"v":7.862},{"t":9.777,"v":7.772},{"t":9.804,"v":7.746},{"t":9.837,"v":7.797},{"t":9.87,"v":7.817},{"t":9.902,"v":7.797},{"t":9.935,"v":7.759},{"t":9.967,"v":7.733},{"t":9.995,"v":7.669},
      {"t":10.022,"v":7.605},{"t":10.049,"v":7.554},{"t":10.076,"v":7.528},{"t":10.109,"v":7.515},{"t":10.141,"v":7.509},{"t":10.174,"v":7.477},{"t":10.207,"v":7.503},{"t":10.239,"v":7.522},{"t":10.272,"v":7.477},{"t":10.304,"v":7.464},{"t":10.326,"v":7.592},{"t":10.348,"v":7.849},{"t":10.37,"v":8.079},{"t":10.391,"v":8.208},{"t":10.413,"v":8.236},{"t":10.44,"v":8.208},{"t":10.467,"v":8.169},{"t":10.495,"v":8.144},{"t":10.516,"v":8.054},{"t":10.538,"v":7.977},{"t":10.565,"v":7.951},{"t":10.592,"v":7.938},{"t":10.62,"v":7.862},{"t":10.647,"v":7.81},{"t":10.674,"v":7.733},{"t":10.707,"v":7.721},{"t":10.734,"v":7.81},{"t":10.761,"v":7.874},{"t":10.788,"v":7.81},{"t":10.815,"v":7.733},{"t":10.843,"v":7.669},{"t":10.875,"v":7.656},{"t":10.908,"v":7.644},{"t":10.94,"v":7.631},{"t":10.973,"v":7.612},
      {"t":11.011,"v":7.592},{"t":11.054,"v":7.592},{"t":11.092,"v":7.579},{"t":11.13,"v":7.592},{"t":11.152,"v":7.656},{"t":11.174,"v":7.785},{"t":11.196,"v":8.079},{"t":11.217,"v":8.272},{"t":11.239,"v":8.381},{"t":11.261,"v":8.336},{"t":11.283,"v":8.285},{"t":11.31,"v":8.221},{"t":11.337,"v":8.144},{"t":11.364,"v":8.105},{"t":11.391,"v":8.105},{"t":11.418,"v":8.054},{"t":11.446,"v":8.003},{"t":11.473,"v":7.964},{"t":11.5,"v":7.951},{"t":11.533,"v":7.945},{"t":11.565,"v":7.958},{"t":11.598,"v":7.977},{"t":11.625,"v":8.003},{"t":11.652,"v":7.977},{"t":11.679,"v":7.887},{"t":11.707,"v":7.823},{"t":11.734,"v":7.797},{"t":11.761,"v":7.81},{"t":11.788,"v":7.746},{"t":11.815,"v":7.695},{"t":11.842,"v":7.676},{"t":11.87,"v":7.772},{"t":11.897,"v":7.797},{"t":11.924,"v":7.721},{"t":11.951,"v":7.656},{"t":11.978,"v":7.721},
      {"t":12.0,"v":7.913},{"t":12.022,"v":8.169},{"t":12.043,"v":8.336},{"t":12.065,"v":8.4},{"t":12.092,"v":8.387},{"t":12.12,"v":8.374},{"t":12.141,"v":8.336},{"t":12.163,"v":8.259},{"t":12.19,"v":8.195},{"t":12.217,"v":8.144},{"t":12.245,"v":8.092},{"t":12.272,"v":8.073},{"t":12.304,"v":8.06},{"t":12.337,"v":8.047},{"t":12.37,"v":8.047},{"t":12.402,"v":8.054},{"t":12.429,"v":8.015},{"t":12.457,"v":7.951},{"t":12.484,"v":7.9},{"t":12.511,"v":7.836},{"t":12.538,"v":7.829},{"t":12.565,"v":7.836},{"t":12.592,"v":7.81},{"t":12.62,"v":7.772},{"t":12.647,"v":7.759},{"t":12.674,"v":7.797},{"t":12.701,"v":7.785},{"t":12.728,"v":7.721},{"t":12.755,"v":7.701},{"t":12.777,"v":7.849},{"t":12.799,"v":8.105},{"t":12.821,"v":8.323},{"t":12.848,"v":8.438},{"t":12.87,"v":8.447},{"t":12.897,"v":8.426},{"t":12.924,"v":8.387},{"t":12.951,"v":8.336},{"t":12.978,"v":8.259},
      {"t":13.005,"v":8.208},{"t":13.033,"v":8.169},{"t":13.06,"v":8.144},{"t":13.087,"v":8.118},{"t":13.12,"v":8.092},{"t":13.152,"v":8.073},{"t":13.185,"v":8.105},{"t":13.217,"v":8.118},{"t":13.245,"v":8.067},{"t":13.272,"v":8.041},{"t":13.299,"v":8.003},{"t":13.326,"v":7.926},{"t":13.348,"v":7.887},{"t":13.375,"v":7.938},{"t":13.402,"v":7.951},{"t":13.43,"v":7.913},{"t":13.457,"v":7.881},{"t":13.484,"v":7.855},{"t":13.511,"v":7.849},{"t":13.543,"v":7.855},{"t":13.565,"v":7.874},{"t":13.587,"v":7.977},{"t":13.609,"v":8.336},{"t":13.63,"v":8.554},{"t":13.652,"v":8.618},{"t":13.674,"v":8.646},{"t":13.701,"v":8.605},{"t":13.728,"v":8.579},{"t":13.755,"v":8.528},{"t":13.783,"v":8.49},{"t":13.81,"v":8.464},{"t":13.837,"v":8.438},{"t":13.864,"v":8.374},{"t":13.891,"v":8.362},{"t":13.918,"v":8.413},{"t":13.946,"v":8.419},{"t":13.978,"v":8.426},
      {"t":14.005,"v":8.432},{"t":14.033,"v":8.413},{"t":14.06,"v":8.336},{"t":14.087,"v":8.285},{"t":14.114,"v":8.259},{"t":14.141,"v":8.208},{"t":14.168,"v":8.131},{"t":14.196,"v":8.079},{"t":14.223,"v":8.054},{"t":14.25,"v":8.028},{"t":14.277,"v":7.99},{"t":14.304,"v":7.951},{"t":14.332,"v":7.964},{"t":14.359,"v":8.003},{"t":14.386,"v":8.041},{"t":14.408,"v":8.079},{"t":14.429,"v":8.233},{"t":14.446,"v":8.426},{"t":14.467,"v":8.554},{"t":14.489,"v":8.708},{"t":14.516,"v":8.756},{"t":14.543,"v":8.721},{"t":14.571,"v":8.656},{"t":14.598,"v":8.579},{"t":14.625,"v":8.515},{"t":14.652,"v":8.503},{"t":14.685,"v":8.515},{"t":14.712,"v":8.477},{"t":14.739,"v":8.438},{"t":14.772,"v":8.406},{"t":14.804,"v":8.419},{"t":14.837,"v":8.432},{"t":14.864,"v":8.387},{"t":14.891,"v":8.349},{"t":14.918,"v":8.31},{"t":14.946,"v":8.272},{"t":14.973,"v":8.233},{"t":15.0,"v":8.227}
    ],
    "ppg639": [
      {"t":0,"v":134.108},{"t":0.027,"v":134.093},{"t":0.054,"v":134.095},{"t":0.087,"v":134.1},{"t":0.114,"v":134.097},{"t":0.136,"v":134.041},{"t":0.157,"v":133.999},{"t":0.185,"v":133.983},{"t":0.212,"v":133.999},{"t":0.239,"v":134.037},{"t":0.261,"v":134.135},{"t":0.282,"v":134.21},{"t":0.309,"v":134.257},{"t":0.336,"v":134.271},{"t":0.364,"v":134.274},{"t":0.396,"v":134.257},{"t":0.423,"v":134.233},{"t":0.451,"v":134.226},{"t":0.478,"v":134.233},{"t":0.51,"v":134.236},{"t":0.537,"v":134.238},{"t":0.565,"v":134.229},{"t":0.592,"v":134.21},{"t":0.619,"v":134.182},{"t":0.646,"v":134.163},{"t":0.673,"v":134.149},{"t":0.7,"v":134.13},{"t":0.727,"v":134.111},{"t":0.755,"v":134.097},{"t":0.787,"v":134.09},{"t":0.82,"v":134.088},{"t":0.847,"v":134.065},{"t":0.869,"v":134.041},{"t":0.901,"v":134.041},{"t":0.928,"v":134.044},{"t":0.955,"v":134.022},{"t":0.983,"v":134.008},
      {"t":1.01,"v":134.018},{"t":1.031,"v":134.037},{"t":1.053,"v":134.083},{"t":1.075,"v":134.177},{"t":1.097,"v":134.271},{"t":1.124,"v":134.294},{"t":1.151,"v":134.301},{"t":1.178,"v":134.306},{"t":1.205,"v":134.319},{"t":1.233,"v":134.299},{"t":1.26,"v":134.275},{"t":1.287,"v":134.261},{"t":1.314,"v":134.243},{"t":1.341,"v":134.224},{"t":1.368,"v":134.226},{"t":1.395,"v":134.238},{"t":1.423,"v":134.224},{"t":1.45,"v":134.205},{"t":1.477,"v":134.177},{"t":1.504,"v":134.149},{"t":1.531,"v":134.135},{"t":1.564,"v":134.144},{"t":1.591,"v":134.14},{"t":1.618,"v":134.107},{"t":1.645,"v":134.083},{"t":1.672,"v":134.069},{"t":1.699,"v":134.06},{"t":1.726,"v":134.065},{"t":1.759,"v":134.083},{"t":1.792,"v":134.079},{"t":1.824,"v":134.076},{"t":1.851,"v":134.055},{"t":1.878,"v":134.048},{"t":1.9,"v":134.083},{"t":1.916,"v":134.177},{"t":1.938,"v":134.271},{"t":1.96,"v":134.318},{"t":1.982,"v":134.327},
      {"t":2.009,"v":134.329},{"t":2.036,"v":134.318},{"t":2.063,"v":134.28},{"t":2.09,"v":134.252},{"t":2.117,"v":134.243},{"t":2.144,"v":134.233},{"t":2.172,"v":134.224},{"t":2.199,"v":134.271},{"t":2.226,"v":134.273},{"t":2.253,"v":134.252},{"t":2.28,"v":134.233},{"t":2.307,"v":134.215},{"t":2.334,"v":134.191},{"t":2.36,"v":134.177},{"t":2.389,"v":134.158},{"t":2.416,"v":134.126},{"t":2.443,"v":134.102},{"t":2.465,"v":134.074},{"t":2.492,"v":134.065},{"t":2.519,"v":134.055},{"t":2.546,"v":134.083},{"t":2.573,"v":134.088},{"t":2.606,"v":134.074},{"t":2.633,"v":134.041},{"t":2.66,"v":134.022},{"t":2.682,"v":134.008},{"t":2.704,"v":134.055},{"t":2.72,"v":134.14},{"t":2.742,"v":134.224},{"t":2.763,"v":134.266},{"t":2.79,"v":134.262},{"t":2.818,"v":134.271},{"t":2.845,"v":134.299},{"t":2.872,"v":134.322},{"t":2.899,"v":134.308},{"t":2.926,"v":134.28},{"t":2.953,"v":134.261},{"t":2.98,"v":134.233},
      {"t":3.008,"v":134.224},{"t":3.035,"v":134.219},{"t":3.062,"v":134.215},{"t":3.089,"v":134.2},{"t":3.116,"v":134.196},{"t":3.143,"v":134.186},{"t":3.17,"v":134.168},{"t":3.192,"v":134.13},{"t":3.214,"v":134.102},{"t":3.241,"v":134.088},{"t":3.268,"v":134.083},{"t":3.295,"v":134.06},{"t":3.322,"v":134.027},{"t":3.35,"v":133.994},{"t":3.377,"v":133.985},{"t":3.404,"v":133.999},{"t":3.431,"v":134.004},{"t":3.458,"v":133.985},{"t":3.485,"v":133.966},{"t":3.513,"v":133.952},{"t":3.54,"v":133.943},{"t":3.561,"v":133.962},{"t":3.583,"v":134.037},{"t":3.605,"v":134.177},{"t":3.626,"v":134.252},{"t":3.643,"v":134.282},{"t":3.67,"v":134.257},{"t":3.692,"v":134.233},{"t":3.719,"v":134.252},{"t":3.746,"v":134.275},{"t":3.773,"v":134.261},{"t":3.8,"v":134.229},{"t":3.827,"v":134.219},{"t":3.854,"v":134.215},{"t":3.887,"v":134.229},{"t":3.919,"v":134.231},{"t":3.947,"v":134.215},{"t":3.969,"v":134.177},{"t":3.99,"v":134.135},
      {"t":4.017,"v":134.121},{"t":4.045,"v":134.107},{"t":4.072,"v":134.088},{"t":4.099,"v":134.074},{"t":4.126,"v":134.051},{"t":4.153,"v":134.022},{"t":4.175,"v":133.99},{"t":4.197,"v":134.004},{"t":4.219,"v":134.027},{"t":4.241,"v":134.032},{"t":4.262,"v":133.999},{"t":4.289,"v":133.966},{"t":4.316,"v":133.962},{"t":4.343,"v":133.99},{"t":4.365,"v":134.004},{"t":4.387,"v":133.98},{"t":4.409,"v":133.933},{"t":4.431,"v":133.919},{"t":4.452,"v":133.905},{"t":4.474,"v":133.99},{"t":4.496,"v":134.107},{"t":4.517,"v":134.163},{"t":4.539,"v":134.184},{"t":4.566,"v":134.186},{"t":4.593,"v":134.158},{"t":4.621,"v":134.144},{"t":4.648,"v":134.13},{"t":4.675,"v":134.102},{"t":4.702,"v":134.079},{"t":4.729,"v":134.083},{"t":4.756,"v":134.121},{"t":4.783,"v":134.13},{"t":4.811,"v":134.107},{"t":4.838,"v":134.083},{"t":4.865,"v":134.055},{"t":4.892,"v":134.027},{"t":4.919,"v":134.013},{"t":4.946,"v":134.004},{"t":4.973,"v":133.994},{"t":4.995,"v":133.966},
      {"t":5.016,"v":133.924},{"t":5.044,"v":133.901},{"t":5.071,"v":133.896},{"t":5.103,"v":133.905},{"t":5.136,"v":133.908},{"t":5.168,"v":133.905},{"t":5.196,"v":133.887},{"t":5.223,"v":133.868},{"t":5.25,"v":133.859},{"t":5.277,"v":133.863},{"t":5.299,"v":133.943},{"t":5.32,"v":134.06},{"t":5.342,"v":134.093},{"t":5.369,"v":134.104},{"t":5.396,"v":134.083},{"t":5.423,"v":134.065},{"t":5.451,"v":134.06},{"t":5.478,"v":134.041},{"t":5.505,"v":134.037},{"t":5.532,"v":134.032},{"t":5.559,"v":134.027},{"t":5.586,"v":134.018},{"t":5.613,"v":134.046},{"t":5.635,"v":134.076},{"t":5.657,"v":134.037},{"t":5.678,"v":133.99},{"t":5.7,"v":133.952},{"t":5.728,"v":133.941},{"t":5.755,"v":133.938},{"t":5.782,"v":133.919},{"t":5.809,"v":133.896},{"t":5.836,"v":133.882},{"t":5.863,"v":133.868},{"t":5.89,"v":133.854},{"t":5.918,"v":133.84},{"t":5.95,"v":133.837},{"t":5.977,"v":133.826},
      {"t":6.004,"v":133.807},{"t":6.031,"v":133.784},{"t":6.058,"v":133.77},{"t":6.086,"v":133.763},{"t":6.107,"v":133.802},{"t":6.129,"v":133.896},{"t":6.151,"v":134.037},{"t":6.173,"v":134.093},{"t":6.194,"v":134.111},{"t":6.222,"v":134.104},{"t":6.249,"v":134.107},{"t":6.276,"v":134.102},{"t":6.303,"v":134.093},{"t":6.33,"v":134.083},{"t":6.357,"v":134.074},{"t":6.39,"v":134.069},{"t":6.417,"v":134.074},{"t":6.444,"v":134.076},{"t":6.471,"v":134.051},{"t":6.499,"v":134.013},{"t":6.526,"v":133.99},{"t":6.553,"v":133.962},{"t":6.58,"v":133.938},{"t":6.607,"v":133.915},{"t":6.635,"v":133.905},{"t":6.662,"v":133.896},{"t":6.689,"v":133.873},{"t":6.716,"v":133.845},{"t":6.743,"v":133.845},{"t":6.77,"v":133.863},{"t":6.797,"v":133.866},{"t":6.825,"v":133.849},{"t":6.852,"v":133.845},{"t":6.879,"v":133.826},{"t":6.906,"v":133.793},{"t":6.933,"v":133.765},{"t":6.96,"v":133.741},{"t":6.982,"v":133.765},{"t":6.998,"v":133.873},
      {"t":7.014,"v":133.99},{"t":7.036,"v":134.074},{"t":7.058,"v":134.083},{"t":7.085,"v":134.097},{"t":7.112,"v":134.104},{"t":7.139,"v":134.088},{"t":7.167,"v":134.083},{"t":7.194,"v":134.074},{"t":7.221,"v":134.046},{"t":7.248,"v":134.008},{"t":7.275,"v":133.976},{"t":7.302,"v":133.962},{"t":7.342,"v":133.962},{"t":7.37,"v":133.957},{"t":7.397,"v":133.948},{"t":7.425,"v":133.933},{"t":7.452,"v":133.936},{"t":7.479,"v":133.919},{"t":7.507,"v":133.903},{"t":7.534,"v":133.908},{"t":7.562,"v":133.873},{"t":7.589,"v":133.84},{"t":7.616,"v":133.802},{"t":7.644,"v":133.807},{"t":7.671,"v":133.826},{"t":7.699,"v":133.802},{"t":7.726,"v":133.793},{"t":7.753,"v":133.755},{"t":7.781,"v":133.746},{"t":7.808,"v":133.723},{"t":7.83,"v":133.779},{"t":7.847,"v":133.919},{"t":7.868,"v":133.999},{"t":7.89,"v":134.037},{"t":7.912,"v":134.051},{"t":7.94,"v":134.048},{"t":7.967,"v":134.055},{"t":7.995,"v":134.058},
      {"t":8.022,"v":134.041},{"t":8.049,"v":134.018},{"t":8.077,"v":133.999},{"t":8.104,"v":133.985},{"t":8.132,"v":133.966},{"t":8.159,"v":133.971},{"t":8.186,"v":133.962},{"t":8.214,"v":133.948},{"t":8.241,"v":133.933},{"t":8.268,"v":133.919},{"t":8.296,"v":133.896},{"t":8.323,"v":133.868},{"t":8.351,"v":133.859},{"t":8.378,"v":133.849},{"t":8.405,"v":133.84},{"t":8.433,"v":133.812},{"t":8.46,"v":133.788},{"t":8.488,"v":133.779},{"t":8.515,"v":133.788},{"t":8.542,"v":133.793},{"t":8.57,"v":133.755},{"t":8.597,"v":133.741},{"t":8.625,"v":133.755},{"t":8.652,"v":133.723},{"t":8.674,"v":133.755},{"t":8.696,"v":133.873},{"t":8.718,"v":133.966},{"t":8.74,"v":134.037},{"t":8.762,"v":134.069},{"t":8.784,"v":134.083},{"t":8.811,"v":134.09},{"t":8.838,"v":134.095},{"t":8.866,"v":134.088},{"t":8.893,"v":134.069},{"t":8.921,"v":134.055},{"t":8.948,"v":134.051},{"t":8.975,"v":134.032},
      {"t":9.003,"v":134.008},{"t":9.03,"v":133.999},{"t":9.058,"v":134.004},{"t":9.085,"v":133.999},{"t":9.112,"v":133.962},{"t":9.14,"v":133.924},{"t":9.167,"v":133.919},{"t":9.195,"v":133.915},{"t":9.222,"v":133.896},{"t":9.249,"v":133.882},{"t":9.277,"v":133.877},{"t":9.304,"v":133.868},{"t":9.332,"v":133.849},{"t":9.359,"v":133.816},{"t":9.386,"v":133.798},{"t":9.414,"v":133.816},{"t":9.441,"v":133.826},{"t":9.468,"v":133.802},{"t":9.49,"v":133.76},{"t":9.512,"v":133.746},{"t":9.534,"v":133.723},{"t":9.556,"v":133.779},{"t":9.578,"v":133.919},{"t":9.6,"v":134.013},{"t":9.622,"v":134.046},{"t":9.649,"v":134.051},{"t":9.677,"v":134.055},{"t":9.704,"v":134.065},{"t":9.73,"v":134.072},{"t":9.759,"v":134.069},{"t":9.786,"v":134.055},{"t":9.814,"v":134.037},{"t":9.841,"v":134.008},{"t":9.868,"v":133.976},{"t":9.896,"v":133.962},{"t":9.923,"v":133.943},{"t":9.951,"v":133.924},{"t":9.978,"v":133.91},
      {"t":10.005,"v":133.896},{"t":10.033,"v":133.887},{"t":10.06,"v":133.873},{"t":10.088,"v":133.859},{"t":10.115,"v":133.849},{"t":10.142,"v":133.821},{"t":10.17,"v":133.802},{"t":10.197,"v":133.802},{"t":10.225,"v":133.798},{"t":10.252,"v":133.784},{"t":10.279,"v":133.777},{"t":10.307,"v":133.774},{"t":10.334,"v":133.76},{"t":10.356,"v":133.779},{"t":10.378,"v":133.873},{"t":10.4,"v":133.943},{"t":10.422,"v":133.999},{"t":10.444,"v":134.027},{"t":10.466,"v":134.051},{"t":10.493,"v":134.065},{"t":10.521,"v":134.072},{"t":10.548,"v":134.06},{"t":10.57,"v":134.037},{"t":10.592,"v":134.004},{"t":10.619,"v":133.997},{"t":10.647,"v":134.008},{"t":10.674,"v":134.022},{"t":10.701,"v":134.037},{"t":10.729,"v":134.051},{"t":10.756,"v":134.027},{"t":10.778,"v":133.966},{"t":10.8,"v":133.919},{"t":10.827,"v":133.901},{"t":10.855,"v":133.891},{"t":10.882,"v":133.891},{"t":10.91,"v":133.887},{"t":10.937,"v":133.873},{"t":10.964,"v":133.849},{"t":10.992,"v":133.854},
      {"t":11.019,"v":133.863},{"t":11.047,"v":133.849},{"t":11.074,"v":133.816},{"t":11.101,"v":133.784},{"t":11.129,"v":133.765},{"t":11.156,"v":133.737},{"t":11.178,"v":133.727},{"t":11.2,"v":133.755},{"t":11.222,"v":133.849},{"t":11.244,"v":133.966},{"t":11.266,"v":134.06},{"t":11.288,"v":134.093},{"t":11.315,"v":134.093},{"t":11.342,"v":134.093},{"t":11.37,"v":134.102},{"t":11.397,"v":134.126},{"t":11.425,"v":134.131},{"t":11.452,"v":134.111},{"t":11.479,"v":134.088},{"t":11.507,"v":134.079},{"t":11.534,"v":134.093},{"t":11.562,"v":134.111},{"t":11.589,"v":134.093},{"t":11.616,"v":134.065},{"t":11.644,"v":134.041},{"t":11.671,"v":134.032},{"t":11.699,"v":134.008},{"t":11.726,"v":133.976},{"t":11.753,"v":133.943},{"t":11.781,"v":133.919},{"t":11.808,"v":133.915},{"t":11.836,"v":133.91},{"t":11.863,"v":133.896},{"t":11.89,"v":133.863},{"t":11.918,"v":133.849},{"t":11.945,"v":133.849},{"t":11.973,"v":133.868},
      {"t":12.0,"v":133.873},{"t":12.022,"v":133.896},{"t":12.044,"v":133.99},{"t":12.066,"v":134.046},{"t":12.088,"v":134.111},{"t":12.11,"v":134.135},{"t":12.137,"v":134.153},{"t":12.164,"v":134.142},{"t":12.192,"v":134.144},{"t":12.219,"v":134.147},{"t":12.247,"v":134.14},{"t":12.274,"v":134.116},{"t":12.301,"v":134.083},{"t":12.329,"v":134.06},{"t":12.356,"v":134.083},{"t":12.384,"v":134.109},{"t":12.411,"v":134.107},{"t":12.438,"v":134.083},{"t":12.466,"v":134.055},{"t":12.493,"v":134.037},{"t":12.521,"v":134.013},{"t":12.548,"v":133.976},{"t":12.575,"v":133.966},{"t":12.603,"v":133.962},{"t":12.63,"v":133.955},{"t":12.658,"v":133.948},{"t":12.685,"v":133.933},{"t":12.712,"v":133.915},{"t":12.74,"v":133.896},{"t":12.767,"v":133.873},{"t":12.795,"v":133.849},{"t":12.816,"v":133.873},{"t":12.838,"v":133.919},{"t":12.86,"v":133.99},{"t":12.882,"v":134.06},{"t":12.904,"v":134.116},{"t":12.926,"v":134.154},{"t":12.948,"v":134.196},{"t":12.97,"v":134.205},{"t":12.997,"v":134.177},
      {"t":13.025,"v":134.154},{"t":13.052,"v":134.149},{"t":13.079,"v":134.147},{"t":13.107,"v":134.149},{"t":13.134,"v":134.147},{"t":13.162,"v":134.17},{"t":13.189,"v":134.158},{"t":13.216,"v":134.102},{"t":13.244,"v":134.083},{"t":13.271,"v":134.081},{"t":13.299,"v":134.051},{"t":13.326,"v":134.022},{"t":13.353,"v":134.004},{"t":13.381,"v":133.994},{"t":13.408,"v":133.99},{"t":13.436,"v":133.994},{"t":13.463,"v":133.987},{"t":13.49,"v":133.966},{"t":13.518,"v":133.919},{"t":13.545,"v":133.887},{"t":13.573,"v":133.882},{"t":13.6,"v":133.88},{"t":13.627,"v":133.887},{"t":13.649,"v":133.943},{"t":13.671,"v":134.06},{"t":13.693,"v":134.149},{"t":13.715,"v":134.2},{"t":13.737,"v":134.224},{"t":13.764,"v":134.229},{"t":13.792,"v":134.236},{"t":13.819,"v":134.257},{"t":13.847,"v":134.282},{"t":13.874,"v":134.282},{"t":13.901,"v":134.266},{"t":13.929,"v":134.259},{"t":13.956,"v":134.275},{"t":13.984,"v":134.285},
      {"t":14.011,"v":134.299},{"t":14.038,"v":134.306},{"t":14.066,"v":134.289},{"t":14.088,"v":134.257},{"t":14.11,"v":134.215},{"t":14.132,"v":134.177},{"t":14.153,"v":134.165},{"t":14.181,"v":134.172},{"t":14.208,"v":134.158},{"t":14.23,"v":134.13},{"t":14.258,"v":134.107},{"t":14.285,"v":134.102},{"t":14.312,"v":134.088},{"t":14.334,"v":134.074},{"t":14.36,"v":134.06},{"t":14.389,"v":134.046},{"t":14.416,"v":134.037},{"t":14.444,"v":134.018},{"t":14.471,"v":133.999},{"t":14.493,"v":134.008},{"t":14.515,"v":134.107},{"t":14.537,"v":134.224},{"t":14.559,"v":134.294},{"t":14.581,"v":134.322},{"t":14.608,"v":134.325},{"t":14.636,"v":134.325},{"t":14.663,"v":134.327},{"t":14.69,"v":134.341},{"t":14.718,"v":134.353},{"t":14.745,"v":134.357},{"t":14.773,"v":134.355},{"t":14.8,"v":134.367},{"t":14.822,"v":134.369},{"t":14.849,"v":134.353},{"t":14.877,"v":134.35},{"t":14.904,"v":134.336},{"t":14.932,"v":134.313},{"t":14.959,"v":134.294},{"t":14.986,"v":134.257},{"t":15.0,"v":134.224}
    ]
  },
  "columns": 2,
  "spacing": {"row": 233, "column": 296},
  "bounds": "flush",
  "concat": [
    {
      "title": {"text": "SPG 850 nm", "offset": 0},
      "width": 1467, "height": 633,
      "data": {"name": "spg850"},
      "mark": {"type": "line", "color": "#1f77b4", "strokeWidth": 3.5, "strokeJoin": "round", "clip": true},
      "encoding": {
        "x": {"field": "t", "type": "quantitative", "scale": {"domain": [-0.75, 15.75], "nice": false, "zero": false}, "axis": {"title": "Time (s)", "values": [0, 2, 4, 6, 8, 10, 12, 14]}},
        "y": {"field": "v", "type": "quantitative", "scale": {"domain": [4.653, 5.408], "nice": false, "zero": false}, "axis": {"title": "SPG (Spatial Variability)", "values": [4.8, 5.0, 5.2, 5.4], "format": ".1f"}}
      }
    },
    {
      "title": {"text": "PPG 850 nm", "offset": 16},
      "width": 1467, "height": 633,
      "data": {"name": "ppg850"},
      "mark": {"type": "line", "color": "#d62728", "strokeWidth": 3.5, "strokeJoin": "round", "clip": true},
      "encoding": {
        "x": {"field": "t", "type": "quantitative", "scale": {"domain": [-0.75, 15.75], "nice": false, "zero": false}, "axis": {"title": "Time (s)", "values": [0, 2, 4, 6, 8, 10, 12, 14]}},
        "y": {"field": "v", "type": "quantitative", "scale": {"domain": [118.809, 120.121], "nice": false, "zero": false}, "axis": {"title": "PPG (Pixel Intensity)", "values": [119.0, 119.25, 119.5, 119.75, 120.0], "format": ".2f"}}
      }
    },
    {
      "title": {"text": "SPG 639 nm", "offset": 16},
      "width": 1467, "height": 633,
      "data": {"name": "spg639"},
      "mark": {"type": "line", "color": "#6a5acd", "strokeWidth": 3.5, "strokeJoin": "round", "clip": true},
      "encoding": {
        "x": {"field": "t", "type": "quantitative", "scale": {"domain": [-0.75, 15.75], "nice": false, "zero": false}, "axis": {"title": "Time (s)", "values": [0, 2, 4, 6, 8, 10, 12, 14]}},
        "y": {"field": "v", "type": "quantitative", "scale": {"domain": [6.892, 8.845], "nice": false, "zero": false}, "axis": {"title": "SPG (Spatial Variability)", "values": [7.0, 7.5, 8.0, 8.5], "format": ".1f"}}
      }
    },
    {
      "title": {"text": "PPG 639 nm", "offset": 16},
      "width": 1467, "height": 633,
      "data": {"name": "ppg639"},
      "mark": {"type": "line", "color": "#ff8c00", "strokeWidth": 3.5, "strokeJoin": "round", "clip": true},
      "encoding": {
        "x": {"field": "t", "type": "quantitative", "scale": {"domain": [-0.75, 15.75], "nice": false, "zero": false}, "axis": {"title": "Time (s)", "values": [0, 2, 4, 6, 8, 10, 12, 14]}},
        "y": {"field": "v", "type": "quantitative", "scale": {"domain": [133.687, 134.401], "nice": false, "zero": false}, "axis": {"title": "PPG (Pixel Intensity)", "values": [133.8, 134.0, 134.2], "format": ".1f"}}
      }
    }
  ],
  "config": {
    "font": "DejaVu Sans",
    "view": {"stroke": "black", "strokeWidth": 2.2},
    "axis": {
      "grid": false,
      "domain": false,
      "ticks": true,
      "tickColor": "black",
      "tickWidth": 2.2,
      "tickSize": 10.5,
      "labelFont": "DejaVu Sans",
      "labelFontSize": 46,
      "labelColor": "black",
      "labelFlush": false,
      "labelOverlap": false,
      "labelBound": false,
      "titleFont": "DejaVu Sans",
      "titleFontSize": 46,
      "titleFontWeight": "normal",
      "titleColor": "black"
    },
    "axisX": {"labelPadding": 7, "titlePadding": 11},
    "axisY": {"labelPadding": 9.7, "titlePadding": 9},
    "title": {"font": "DejaVu Sans", "fontSize": 57, "fontWeight": "normal", "color": "black", "anchor": "middle", "baseline": "alphabetic", "offset": 16, "frame": "group"}
  }
}
